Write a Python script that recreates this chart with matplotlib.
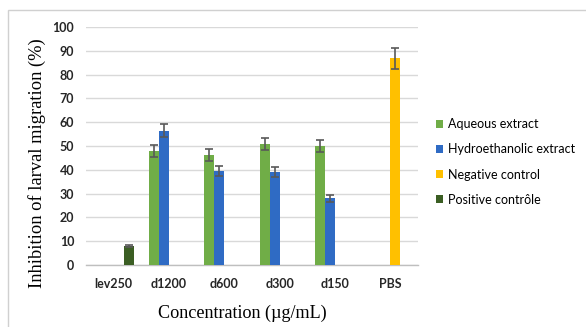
import numpy as np
import matplotlib.pyplot as plt
from matplotlib.patches import Rectangle

# data
categories = ["lev250", "d1200", "d600", "d300", "d150", "PBS"]
series_names = ["Aqueous extract", "Hydroethanolic extract", "Negative control", "Positive contrôle"]
aqueous = [np.nan, 48.0, 46.2, 50.7, 50.1, np.nan]
aqueous_err = [0, 2.6, 2.6, 2.5, 2.5, 0]
hydro = [np.nan, 56.4, 39.6, 39.1, 28.0, np.nan]
hydro_err = [0, 2.8, 2.2, 2.0, 1.5, 0]
negative = [np.nan, np.nan, np.nan, np.nan, np.nan, 86.8]
negative_err = [0, 0, 0, 0, 0, 4.3]
positive = [8.1, np.nan, np.nan, np.nan, np.nan, np.nan]
positive_err = [0.4, 0, 0, 0, 0, 0]

colors = ["#70AD47", "#2F6BC4", "#FFC000", "#3B5E23"]
values = [aqueous, hydro, negative, positive]
errors = [aqueous_err, hydro_err, negative_err, positive_err]

fig = plt.figure(figsize=(5.86, 3.27), dpi=100)
ax = fig.add_axes([0.147, 0.1896, 0.566, 0.7278])

# light frame around the whole chart like the Excel chart area
fig.patches.append(Rectangle((8 / 586, -0.05), 1.2, 1 - 10 / 327 + 0.05,
                             transform=fig.transFigure, fill=False,
                             edgecolor="#D0D0D0", linewidth=1.0))

x = np.arange(len(categories))
w = 0.18
for i in range(4):
    offs = (i - 1.5) * w
    ax.bar(x + offs, values[i], width=w, color=colors[i], label=series_names[i], zorder=3)
    vals = np.array(values[i], dtype=float)
    errs = np.array(errors[i], dtype=float)
    mask = ~np.isnan(vals)
    ax.errorbar(x[mask] + offs, vals[mask], yerr=errs[mask], fmt="none",
                ecolor="#595959", elinewidth=1.2, capsize=3, capthick=1.2, zorder=4)

ax.set_xlim(-0.5, 5.5)
ax.set_ylim(0, 100)
ax.set_yticks(np.arange(0, 101, 10))
ax.set_xticks(x)
ax.set_xticklabels(categories, fontsize=9, fontweight="bold", family="Lato", color="#262626")
for lab in ax.get_yticklabels():
    lab.set_fontsize(9)
    lab.set_fontweight("bold")
    lab.set_family("Lato")
    lab.set_color("#262626")
ax.tick_params(length=0)
ax.tick_params(axis="x", pad=9)
ax.tick_params(axis="y", pad=8.5)
ax.grid(axis="y", color="#D9D9D9", linewidth=1.0, zorder=0)
for s in ["top", "right", "left"]:
    ax.spines[s].set_visible(False)
ax.spines["bottom"].set_color("#BFBFBF")
ax.spines["bottom"].set_linewidth(1.0)

fig.text(37 / 586, 1 - 163.5 / 327, "Inhibition of larval migration (%)", rotation=90,
         ha="center", va="center", family="Liberation Serif", fontsize=13.3)
fig.text(242 / 586, 1 - 313 / 327, "Concentration (µg/mL)", ha="center", va="center",
         family="Liberation Serif", fontsize=13.1)

ax.legend(loc="center left", bbox_to_anchor=(1.02, 0.433), frameon=False,
          prop={"family": "Lato", "size": 9}, handlelength=0.6, handleheight=0.6,
          handletextpad=0.4, labelspacing=1.05)

plt.savefig("out.png", dpi=100)
